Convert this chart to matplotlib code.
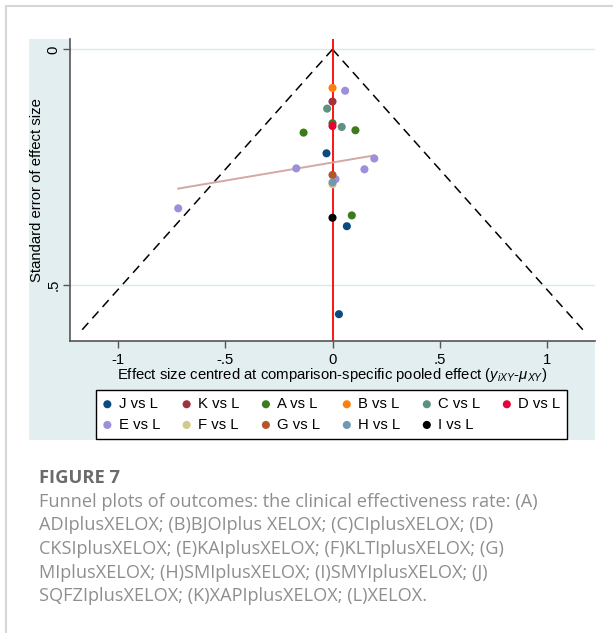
import matplotlib
matplotlib.use("Agg")
import matplotlib.pyplot as plt
import numpy as np
from matplotlib.patches import Rectangle
from matplotlib.lines import Line2D

# ---------------- data ----------------
comparisons = ['J vs L', 'K vs L', 'A vs L', 'B vs L', 'C vs L', 'D vs L',
               'E vs L', 'F vs L', 'G vs L', 'H vs L', 'I vs L']
series_colors = ['#0b4a7e', '#a3303d', '#3e7a1e', '#ff7f0e', '#5f9182', '#e8003a',
                 '#9b91da', '#d3c98a', '#b4552a', '#6f98b2', '#000000']

j_x = [-0.028, 0.067, 0.030]
j_se = [0.221, 0.376, 0.563]
k_x = [0.0]
k_se = [0.111]
a_x = [0.0, 0.107, -0.135, 0.090]
a_se = [0.157, 0.172, 0.177, 0.353]
b_x = [0.0]
b_se = [0.082]
c_x = [-0.025, 0.043]
c_se = [0.126, 0.165]
d_x = [0.0]
d_se = [0.163]
e_x = [0.059, 0.195, -0.169, 0.149, 0.014, -0.720]
e_se = [0.088, 0.232, 0.253, 0.255, 0.276, 0.338]
f_x = [0.0]
f_se = [0.287]
g_x = [0.0]
g_se = [0.267]
h_x = [0.0]
h_se = [0.283]
i_x = [0.0]
i_se = [0.358]

series_x = [j_x, k_x, a_x, b_x, c_x, d_x, e_x, f_x, g_x, h_x, i_x]
series_se = [j_se, k_se, a_se, b_se, c_se, d_se, e_se, f_se, g_se, h_se, i_se]

# small-study-effects line (fitted line endpoints)
reg_x = [-0.720, 0.195]
reg_se = [0.296, 0.2255]

# funnel limits
funnel_se_max = 0.600
z_crit = 1.96

x_ticks = [-1, -0.5, 0, 0.5, 1]
x_ticklabels = ['-1', '-.5', '0', '.5', '1']
y_ticks = [0, 0.5]
y_ticklabels = ['0', '.5']

caption_title = 'FIGURE 7'
caption_lines = [
    'Funnel plots of outcomes: the clinical effectiveness rate: (A)',
    'ADIplusXELOX; (B)BJOIplus XELOX; (C)CIplusXELOX; (D)',
    'CKSIplusXELOX; (E)KAIplusXELOX; (F)KLTIplusXELOX; (G)',
    'MIplusXELOX; (H)SMIplusXELOX; (I)SMYIplusXELOX; (J)',
    'SQFZIplusXELOX; (K)XAPIplusXELOX; (L)XELOX.',
]

# ---------------- figure ----------------
W, H = 613, 633
plt.rcParams['font.family'] = ['Liberation Sans', 'DejaVu Sans']
plt.rcParams['mathtext.fontset'] = 'custom'
plt.rcParams['mathtext.rm'] = 'Liberation Sans'
plt.rcParams['mathtext.it'] = 'Liberation Sans:italic'

FS = 10.7

fig = plt.figure(figsize=(W / 100, H / 100), dpi=100, facecolor='white')

def fx(px):
    return px / W

def fy(py):
    return 1 - py / H

# page border (top and left)
fig.add_artist(Line2D([fx(6), fx(W)], [fy(6), fy(6)], color='#d6d6d6', lw=1.5,
                      transform=fig.transFigure))
fig.add_artist(Line2D([fx(6), fx(6)], [fy(6), fy(H)], color='#d6d6d6', lw=1.5,
                      transform=fig.transFigure))

# graph region background
fig.add_artist(Rectangle((fx(29), fy(440)), fx(595) - fx(29), fy(39) - fy(440),
                         transform=fig.transFigure, facecolor='#e3eef0',
                         edgecolor='none', zorder=0))

ax_l, ax_r, ax_t, ax_b = 70, 595, 39, 341
ax = fig.add_axes([fx(ax_l), fy(ax_b), fx(ax_r) - fx(ax_l), fy(ax_t) - fy(ax_b)])
ax.set_facecolor('white')
ax.set_zorder(1)

ax.set_xlim(-1.225, 1.225)
ax.set_ylim(0.62, -0.022)

# gridlines
for yt in y_ticks:
    ax.axhline(yt, color='#d8e8ee', lw=1.0, zorder=1)

# funnel
se_line = np.array([0.0, funnel_se_max])
ax.plot(-z_crit * se_line, se_line, color='black', lw=1.1, ls=(0, (6, 4)), zorder=2)
ax.plot(z_crit * se_line, se_line, color='black', lw=1.1, ls=(0, (6, 4)), zorder=2)

# reference line
ax.axvline(0, color='#ff0000', lw=1.3, zorder=2)

# regression line
ax.plot(reg_x, reg_se, color='#d4a8a2', lw=1.4, zorder=2)

handles = []
for name, col, xs, ses in zip(comparisons, series_colors, series_x, series_se):
    h = ax.scatter(xs, ses, s=34, color=col, edgecolors='none', zorder=3, label=name)
    handles.append(h)

for sp in ['top', 'right']:
    ax.spines[sp].set_visible(False)
for sp in ['left', 'bottom']:
    ax.spines[sp].set_color('#555555')
    ax.spines[sp].set_linewidth(1.2)

ax.set_xticks(x_ticks)
ax.set_xticklabels(x_ticklabels, fontsize=FS)
ax.set_yticks(y_ticks)
ax.set_yticklabels(y_ticklabels, fontsize=FS, rotation=90, va='center')
ax.tick_params(axis='both', direction='out', length=5, width=1.0, color='#555555',
               labelcolor='black')
ax.tick_params(axis='x', pad=4)
ax.tick_params(axis='y', pad=2)

ax.set_xlabel(r'Effect size centred at comparison-specific pooled effect ($y_{iXY}$-$\mu_{XY}$)',
              fontsize=FS, va='center')
ax.xaxis.set_label_coords(0.5, -(375 - ax_b) / (ax_b - ax_t))
ax.set_ylabel('Standard error of effect size', fontsize=FS, va='center')
ax.yaxis.set_label_coords(-(ax_l - 37) / (ax_r - ax_l), 0.5)

# legend, row-major order
order = [0, 6, 1, 7, 2, 8, 3, 9, 4, 10, 5]
leg = fig.legend([handles[i] for i in order], [comparisons[i] for i in order],
                 ncol=6, loc='center', bbox_to_anchor=(fx(331.5), fy(414.5)),
                 fontsize=FS, frameon=True, fancybox=False, framealpha=1,
                 edgecolor='black', handletextpad=0.45, columnspacing=1.5,
                 handlelength=0.6, borderpad=0.45, labelspacing=0.45,
                 scatterpoints=1, markerscale=1.0, borderaxespad=0)
leg.get_frame().set_linewidth(1.0)

# caption
fig.text(fx(39), fy(478), caption_title, fontsize=13.2, fontweight='bold',
         color='#6b6b6b', family=['Open Sans', 'DejaVu Sans'], va='center', ha='left')
for k, line in enumerate(caption_lines):
    fig.text(fx(39), fy(502 + k * 23.5), line, fontsize=13.1, color='#8e8e8e',
             family=['Open Sans', 'DejaVu Sans'], va='center', ha='left')

fig.savefig('out.png', dpi=100, facecolor='white')
